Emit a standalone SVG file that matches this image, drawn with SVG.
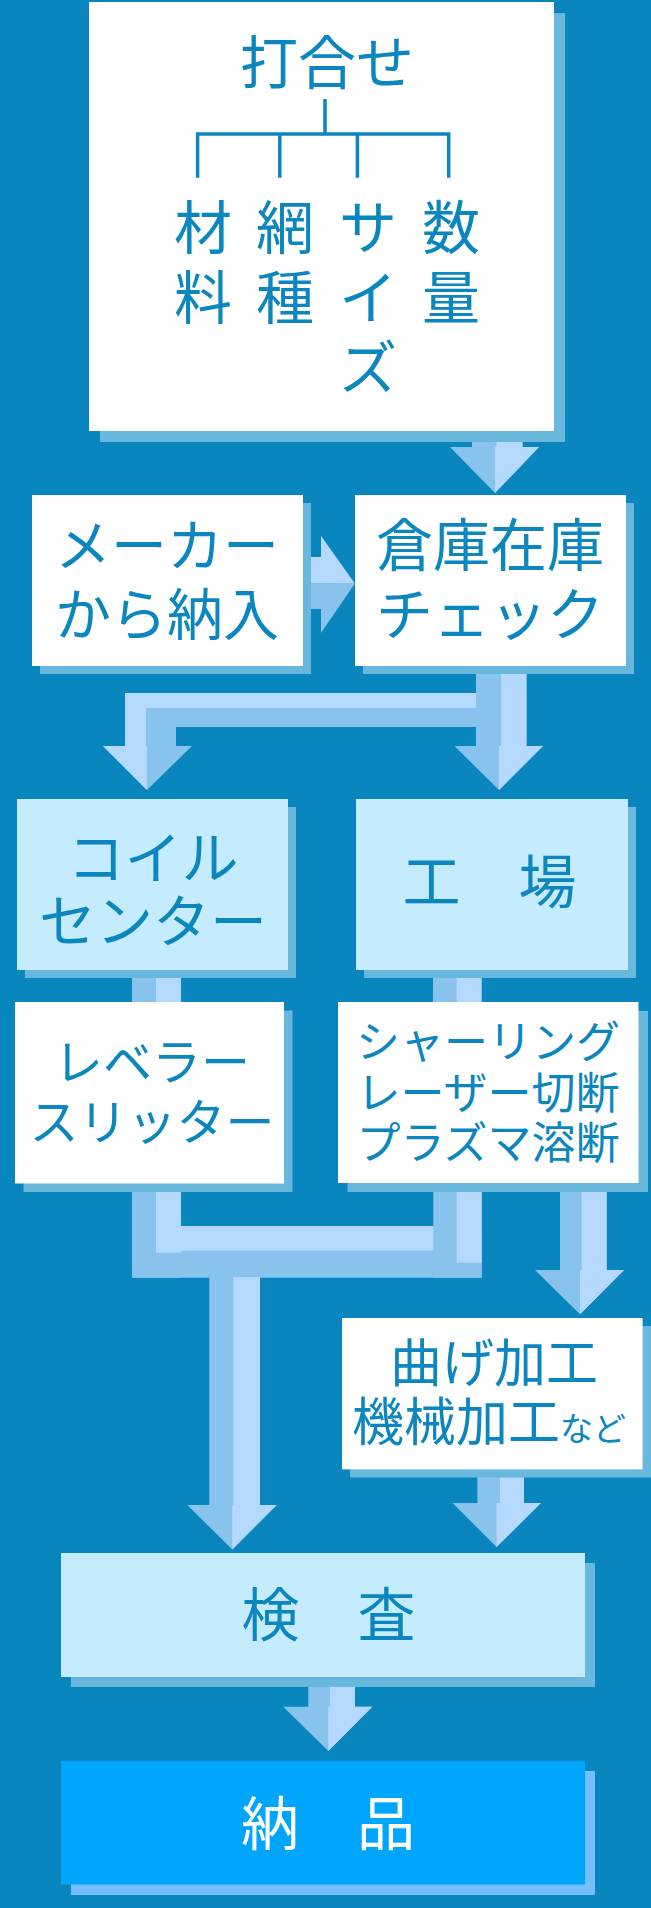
<svg xmlns="http://www.w3.org/2000/svg" width="651" height="1908" viewBox="0 0 651 1908">
<style>
.bg{fill:#0886bd}
.sh{fill:#67b8dc}
.sh2{fill:#72bffb}
.w{fill:#ffffff}
.c{fill:#c4ecfe}
.b{fill:#00a6fe}
.ad{fill:#88c3ee}
.al{fill:#b4d9fd}
.tree{fill:none;stroke:#0b86be;stroke-width:3.5;stroke-linejoin:miter}
text{font-family:"Noto Sans CJK JP","Noto Sans CJK SC",sans-serif;fill:#0b86be;text-anchor:middle}
.f58{font-size:58px}
.f57{font-size:57px}
.f56{font-size:56px}
.f52{font-size:52px}
.f49{font-size:49px}
.f44{font-size:44px}
.white{fill:#ffffff}
</style>
<rect class="bg" x="0" y="0" width="651" height="1908"/>
<g id="connectors">
  <!-- top -> warehouse -->
  <polygon class="ad" points="472,440 522.5,440 522.5,447 539,447 495,493 450,447 472,447"/>
  <polygon class="al" points="496.5,440 522.5,440 522.5,447 539,447 495,493 495,447 496.5,447"/>
  <!-- maker -> warehouse -->
  <polygon class="ad" points="305,557 321,557 321,536 354.5,584 321,633 321,609 305,609"/>
  <polygon class="al" points="305,557 321,557 321,536 354.5,583 305,583"/>
  <!-- warehouse -> factory -->
  <polygon class="ad" points="476,668 526.5,668 526.5,746 543,746 499,790 454.5,746 476,746"/>
  <polygon class="al" points="501,668 526.5,668 526.5,746 543,746 499,790 499,746 501,746"/>
  <!-- warehouse -> coil center (bend) -->
  <polygon class="al" points="125,693 476,693 476,708 146,708 146,746 125,746"/>
  <polygon class="ad" points="146,708 476,708 476,727 176,727 176,746 146,746"/>
  <polygon class="ad" points="103,746 192,746 147,790"/>
  <polygon class="al" points="103,746 147,746 147,790"/>
  <!-- stubs -->
  <rect class="ad" x="132" y="972" width="49" height="34"/>
  <rect class="al" x="156" y="972" width="25" height="34"/>
  <rect class="ad" x="433" y="972" width="48.5" height="34"/>
  <rect class="al" x="456.6" y="972" width="24.9" height="34"/>
  <!-- merge -->
  <rect class="ad" x="132" y="1188" width="49" height="89.7"/>
  <rect class="ad" x="433.3" y="1188" width="48.4" height="89.7"/>
  <rect class="ad" x="132" y="1226" width="349.7" height="51.7"/>
  <polygon class="al" points="156,1188 181,1188 181,1226 433.3,1226 433.3,1250.7 181,1250.7 181,1252.7 156,1252.7"/>
  <rect class="al" x="456.7" y="1188" width="25" height="74.7"/>
  <!-- merge -> inspection -->
  <polygon class="ad" points="209.3,1277 260,1277 260,1505 276.7,1505 232.3,1549.5 187.3,1505 209.3,1505"/>
  <polygon class="al" points="233.3,1277 260,1277 260,1505 276.7,1505 232.3,1549.5 232.3,1505 233.3,1505"/>
  <!-- shearing -> bending -->
  <polygon class="ad" points="560,1188 606.7,1188 606.7,1270 624,1270 580,1314.3 535,1270 560,1270"/>
  <polygon class="al" points="581.7,1188 606.7,1188 606.7,1270 624,1270 580,1314.3 580,1270 581.7,1270"/>
  <!-- bending -> inspection -->
  <polygon class="ad" points="477.4,1474 524,1474 524,1503 541,1503 496.5,1547 452.5,1503 477.4,1503"/>
  <polygon class="al" points="500,1474 524,1474 524,1503 541,1503 496.5,1547 496.5,1503 500,1503"/>
  <!-- inspection -> delivery -->
  <polygon class="ad" points="308.3,1684 355,1684 355,1706.7 372.3,1706.7 328.3,1751 283.3,1706.7 308.3,1706.7"/>
  <polygon class="al" points="330,1684 355,1684 355,1706.7 372.3,1706.7 328.3,1751 328.3,1706.7 330,1706.7"/>
</g>
<g id="uchiawase">
  <rect class="sh" x="100" y="13" width="465" height="429"/>
  <rect class="w" x="89" y="2" width="465" height="429"/>
  <text class="f58" x="327" y="84">打合せ</text>
  <path class="tree" d="M325,99 V134 M197.6,177.7 V134 H448.7 V177.7 M279.8,134 V177.7 M357.4,134 V177.7"/>
  <text class="f58" x="203" y="249">材</text>
  <text class="f58" x="203" y="319">料</text>
  <text class="f58" x="285" y="249">網</text>
  <text class="f58" x="285" y="319">種</text>
  <text class="f58" x="368" y="249">サ</text>
  <text class="f58" x="368" y="319">イ</text>
  <text class="f58" x="368" y="389">ズ</text>
  <text class="f58" x="451" y="249">数</text>
  <text class="f58" x="451" y="319">量</text>
</g>
<g id="maker">
  <rect class="sh" x="40" y="503" width="271" height="171"/>
  <rect class="w" x="32" y="495" width="271" height="171"/>
  <text class="f56"><tspan x="167" y="566">メーカー</tspan><tspan x="167" y="635">から納入</tspan></text>
</g>
<g id="warehouse">
  <rect class="sh" x="363" y="503" width="271" height="171"/>
  <rect class="w" x="355" y="495" width="271" height="171"/>
  <text class="f57"><tspan x="490" y="566">倉庫在庫</tspan><tspan x="490" y="635">チェック</tspan></text>
</g>
<g id="coilcenter">
  <rect class="sh" x="25" y="807" width="271" height="171"/>
  <rect class="c" x="17" y="799" width="271" height="171"/>
  <text class="f57"><tspan x="153" y="879">コイル</tspan><tspan x="153" y="942">センター</tspan></text>
</g>
<g id="factory">
  <rect class="sh" x="364" y="807" width="272" height="171"/>
  <rect class="c" x="356" y="799" width="272" height="171"/>
  <text class="f58" x="489.5" y="903">工　場</text>
</g>
<g id="leveler">
  <rect class="sh" x="23.5" y="1010.5" width="269" height="181.5"/>
  <rect class="w" x="15" y="1002" width="269" height="181.5"/>
  <text class="f49"><tspan x="152" y="1080">レベラー</tspan><tspan x="152" y="1140">スリッター</tspan></text>
</g>
<g id="shearing">
  <rect class="sh" x="347.5" y="1011" width="300.5" height="181"/>
  <rect class="w" x="338" y="1002" width="300.5" height="181"/>
  <text class="f44"><tspan x="488" y="1058">シャーリング</tspan><tspan x="488" y="1109">レーザー切断</tspan><tspan x="488" y="1159">プラズマ溶断</tspan></text>
</g>
<g id="bending">
  <rect class="sh" x="350" y="1326" width="301" height="151.5"/>
  <rect class="w" x="342" y="1318" width="300.6" height="151.4"/>
  <text class="f52" x="494" y="1382">曲げ加工</text>
  <text class="f52" x="352" y="1441" style="text-anchor:start">機械加工<tspan style="font-size:33px">など</tspan></text>
</g>
<g id="inspection">
  <rect class="sh" x="71" y="1563" width="524" height="124"/>
  <rect class="c" x="61" y="1553" width="524" height="124"/>
  <text class="f58" x="328.4" y="1635.5">検　査</text>
</g>
<g id="delivery">
  <rect class="sh2" x="71" y="1771" width="524" height="124"/>
  <rect class="b" x="61" y="1761" width="524" height="123.5"/>
  <text class="f58 white" x="328" y="1845">納　品</text>
</g>
</svg>
